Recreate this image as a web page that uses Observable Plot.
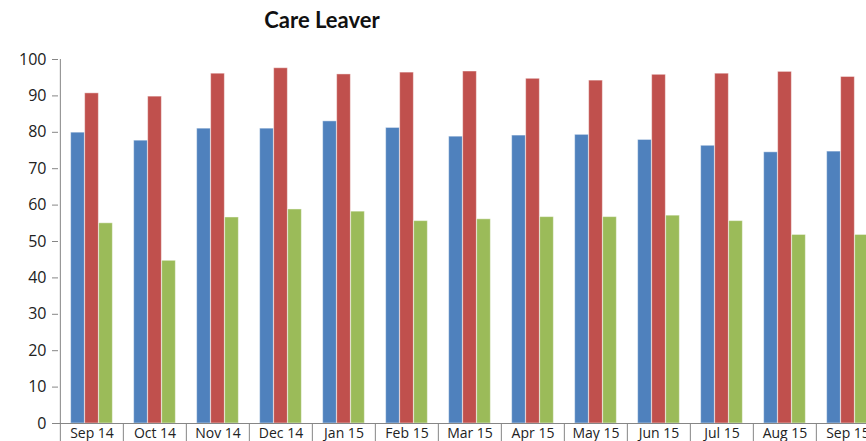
<!DOCTYPE html>
<html>
<head>
<meta charset="utf-8">
<script src="https://cdn.jsdelivr.net/npm/d3@7"></script>
<script src="https://cdn.jsdelivr.net/npm/@observablehq/plot@0.6"></script>
<style>
  html, body { margin: 0; padding: 0; background: #fff; overflow: hidden; width: 866px; height: 441px; }
  #wrap { position: relative; width: 900px; }
  #title { height: 44px; width: 644px; text-align: center; font-family: Lato, "Open Sans", sans-serif; font-weight: bold; font-size: 22px; line-height: 40px; color: #111; }
  svg { display: block; }
</style>
</head>
<body>
<div id="wrap">
  <div id="title">Care Leaver</div>
  <div id="chart"></div>
</div>
<script>
const months = ["Sep 14","Oct 14","Nov 14","Dec 14","Jan 15","Feb 15","Mar 15","Apr 15","May 15","Jun 15","Jul 15","Aug 15","Sep 15"];
const blueValues  = [79.9, 77.7, 81.0, 81.0, 83.0, 81.2, 78.8, 79.1, 79.3, 77.9, 76.3, 74.5, 74.7];
const redValues   = [90.7, 89.8, 96.1, 97.6, 95.9, 96.4, 96.7, 94.7, 94.2, 95.8, 96.1, 96.6, 95.2];
const greenValues = [55.0, 44.7, 56.6, 58.8, 58.2, 55.6, 56.1, 56.7, 56.7, 57.1, 55.6, 51.8, 51.8];
const yTicks = [0,10,20,30,40,50,60,70,80,90,100];

const colors = ["#4F81BD", "#C0504D", "#9BBB59"];
const seriesList = [blueValues, redValues, greenValues];

const marginLeft = 58, marginRight = 9;
const width = 890;
const bw = (width - marginLeft - marginRight) / months.length;
const barW = 14;
const inset = (bw - barW) / 2;

const barMarks = seriesList.map((vals, i) => {
  const data = months.map((m, j) => ({month: m, value: vals[j]}));
  return Plot.barY(data, {
    x: "month", y: "value",
    fill: colors[i],
    stroke: "#ffffff", strokeOpacity: 0.45, strokeWidth: 1,
    insetLeft: inset, insetRight: inset,
    dx: (i - 1) * barW
  });
});

const chart = Plot.plot({
  width, height: 409,
  marginLeft, marginRight, marginTop: 15, marginBottom: 30,
  style: {fontFamily: "'Open Sans', sans-serif", color: "#222", background: "#fff"},
  x: {domain: months, padding: 0, label: null},
  y: {domain: [0, 100], label: null},
  marks: [
    ...barMarks,
    Plot.axisY({ticks: yTicks, tickSize: 6, tickPadding: 6, stroke: "#868686", fontSize: 16, fill: "#222", label: null}),
    Plot.ruleX([0], {x: () => months[0], dx: -bw/2, stroke: "#868686"}),
    Plot.ruleY([0], {stroke: "#868686"}),
    Plot.axisX({tickSize: 20, dx: -bw/2, text: null, stroke: "#868686", label: null}),
    Plot.axisX({tickSize: 0, tickPadding: 5, fontSize: 14, fill: "#222", label: null})
  ]
});
document.getElementById("chart").appendChild(chart);
</script>
</body>
</html>
